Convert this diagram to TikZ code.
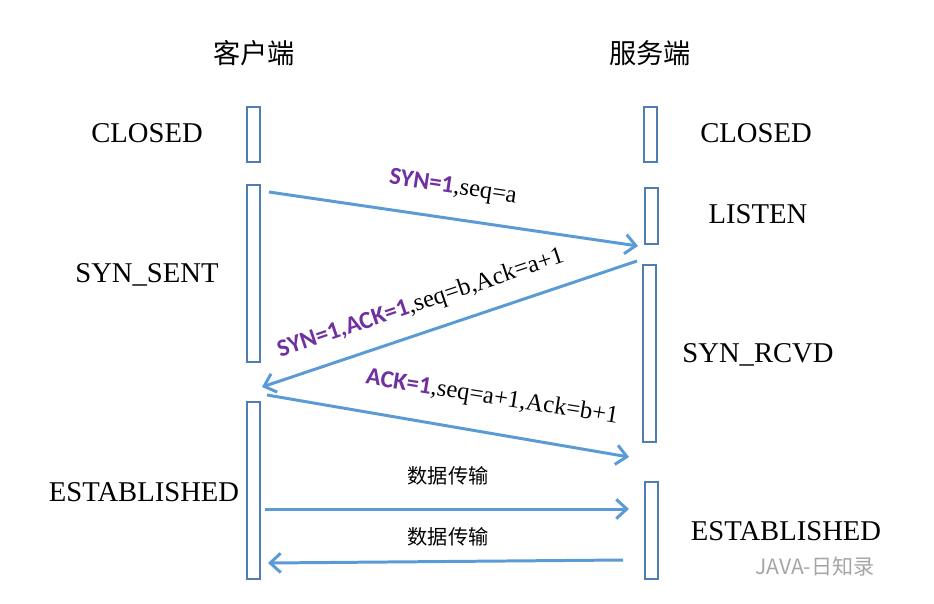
\documentclass[tikz,border=0pt]{standalone}
\usepackage{fontspec}
\usetikzlibrary{arrows.meta,fit}

\newfontfamily\cjkfont{Noto Sans CJK SC}
\newfontfamily\flagfont{Carlito}
\newfontfamily\statefont{Liberation Serif}

\definecolor{boxblue}{RGB}{80,126,178}
\definecolor{msgblue}{RGB}{91,155,213}
\definecolor{flagpurple}{RGB}{112,48,160}
\definecolor{markgray}{RGB}{165,165,165}

\newcommand\flagtxt[1]{{\flagfont\bfseries\color{flagpurple}#1}}

\tikzset{
  lifebox/.style={draw=boxblue, line width=0.8pt, inner sep=0pt},
  msg/.style={draw=msgblue, line width=1.7pt, -{Straight Barb[length=6pt,width=11pt]}},
  state/.style={font=\statefont\fontsize{16.3}{19}\selectfont},
  side/.style={font=\cjkfont\fontsize{15.5}{18}\selectfont},
  msglabel/.style={font=\statefont\fontsize{14}{16}\selectfont, inner sep=0pt},
  datalabel/.style={font=\cjkfont\fontsize{11.5}{14}\selectfont},
}

\begin{document}
\begin{tikzpicture}[x=0.02cm,y=-0.02cm]

\useasboundingbox (0,0) rectangle (934,603);

% the two sides
\node[side] (client) at (254,53) {客户端};
\node[side] (server) at (650,53) {服务端};

% client boxes
\node[lifebox, fit={(247,107) (260,162)}] (cbox1) {};
\node[lifebox, fit={(247,185) (260,362)}] (cbox2) {};
\node[lifebox, fit={(247,402) (260,579)}] (cbox3) {};

% server boxes
\node[lifebox, fit={(644,107) (657,162)}] (sbox1) {};
\node[lifebox, fit={(645,188) (658,244)}] (sbox2) {};
\node[lifebox, fit={(643,265) (656,442)}] (sbox3) {};
\node[lifebox, fit={(645,482) (658,579)}] (sbox4) {};

% states
\node[state] (cclosed) at (147,133) {CLOSED};
\node[state] (csent) at (147,275) {SYN\_SENT};
\node[state] (cest) at (144,492) {ESTABLISHED};
\node[state] (sclosed) at (756,133) {CLOSED};
\node[state] (slisten) at (758,214) {LISTEN};
\node[state] (srcvd) at (758,355) {SYN\_RCVD};
\node[state] (sest) at (786,531) {ESTABLISHED};

% message ends
\coordinate (syn-a) at (269,192);
\coordinate (syn-b) at (638,246);
\coordinate (synack-a) at (637,261);
\coordinate (synack-b) at (262,387);
\coordinate (ack-a) at (267,395);
\coordinate (ack-b) at (629,457);
\coordinate (data1-a) at (265,509);
\coordinate (data1-b) at (629,509);
\coordinate (data2-a) at (623,560);
\coordinate (data2-b) at (268,563);

\draw[msg] (syn-a) -- (syn-b);
\draw[msg] (synack-a) -- (synack-b);
\draw[msg] (ack-a) -- (ack-b);
\draw[msg] (data1-a) -- (data1-b);
\draw[msg] (data2-a) -- (data2-b);

% labels on the messages
\node[msglabel, rotate=-8.5] (synlbl) at (453,188) {\flagtxt{SYN=1},seq=a};
\node[msglabel, rotate=18.6] (synacklbl) at (421,304) {\flagtxt{SYN=1,ACK=1},seq=b,Ack=a+1};
\node[msglabel, rotate=-9] (acklbl) at (492,398) {\flagtxt{ACK=1},seq=a+1,Ack=b+1};
\node[datalabel] (data1lbl) at (448,476) {数据传输};
\node[datalabel] (data2lbl) at (448,537) {数据传输};

\node[font=\cjkfont\fontsize{12}{14}\selectfont, text=markgray] (mark) at (815,566) {JAVA-日知录};

\end{tikzpicture}
\end{document}
